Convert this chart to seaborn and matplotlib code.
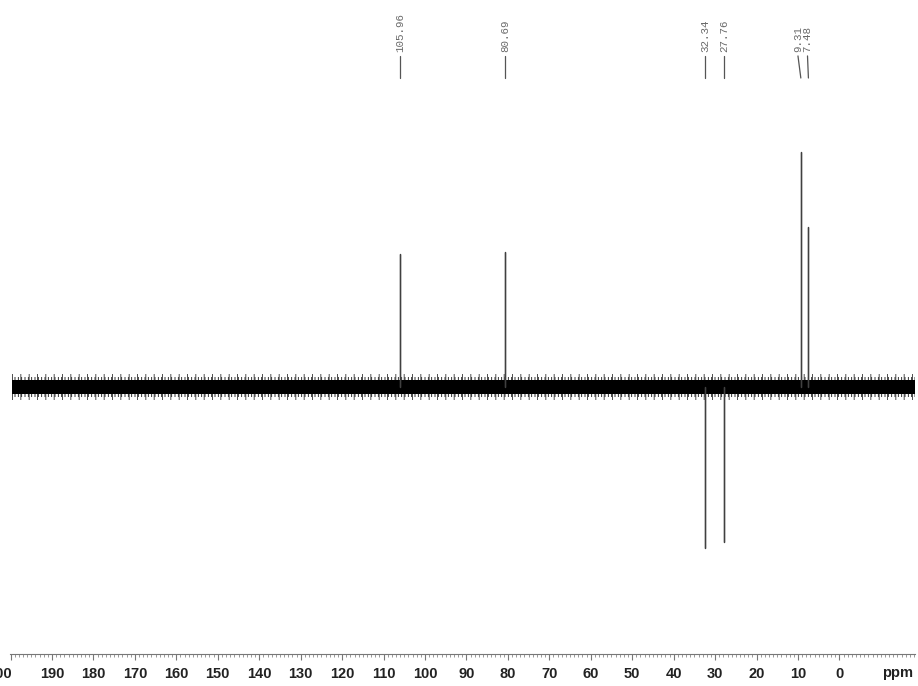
import matplotlib
matplotlib.use("Agg")
import matplotlib.pyplot as plt
import matplotlib.transforms as mtransforms
import numpy as np
import pandas as pd
import seaborn as sns

# DEPT-135 carbon spectrum: peak positions (ppm) and signed relative intensities
peak_ppm = [105.96, 80.69, 32.34, 27.76, 9.31, 7.48]
peak_height = [56.6, 57.4, -68.5, -66.0, 100.0, 68.0]
peak_labels = ["105.96", "80.69", "32.34", "27.76", "9.31", "7.48"]
# where each printed shift label sits (crowded labels are spread apart)
label_ppm = [105.96, 80.69, 32.34, 27.76, 10.0, 7.7]

tick_values = list(range(200, -1, -10))
tick_labels = [str(v) for v in tick_values]

# baseline noise envelope (relative intensity units)
noise_core = 2.9
noise_mid = 4.2
noise_peak = 5.6
baseline_start, baseline_end = 199.7, -18.2

sns.set_theme(style="white")
plt.rcParams["hatch.linewidth"] = 0.6

W, H = 918, 686
fig = plt.figure(figsize=(W / 100, H / 100), dpi=100)
ax = fig.add_axes([10 / W, 32 / H, 905 / W, 654 / H])
ax.set_xlim(200.14, -18.24)
ax.set_ylim(-113.6, 164.7)

# stick spectrum: one vertical trace per resonance
rows = []
for i, (p, h) in enumerate(zip(peak_ppm, peak_height)):
    for y in (0.0, h, 0.0):
        rows.append({"peak": i, "ppm": p, "intensity": y})
df = pd.DataFrame(rows)

# baseline noise band
bx = [baseline_start, baseline_end]
ax.fill_between(bx, -noise_peak, noise_peak, facecolor="none",
                edgecolor="#333333", hatch="||", linewidth=0, zorder=1)
ax.fill_between(bx, -noise_mid, noise_mid, facecolor="none",
                edgecolor="#111111", hatch="|||||", linewidth=0, zorder=1)
ax.fill_between(bx, -noise_core, noise_core, color="#000000",
                linewidth=0, zorder=2)

sns.lineplot(data=df, x="ppm", y="intensity", units="peak", estimator=None,
             sort=False, color="#404040", linewidth=0.95, ax=ax, zorder=3,
             legend=False)

# shift labels with leader lines at the top
for p, lp, lab in zip(peak_ppm, label_ppm, peak_labels):
    ax.plot([lp, p], [140.9, 131.5], color="#555555",
            linewidth=0.9, zorder=3)
    ax.text(lp, 142.6, lab, rotation=90, ha="center", va="bottom",
            family="Liberation Mono", fontsize=7.8, color="#6a6a6a")

# ppm ruler
for s in ("left", "right", "top"):
    ax.spines[s].set_visible(False)
ax.spines["bottom"].set_color("#777777")
ax.spines["bottom"].set_linewidth(0.8)
ax.set_yticks([])
ax.set_xticks(tick_values)
ax.set_xticklabels(tick_labels, family="Liberation Sans", fontweight="bold",
                   fontsize=10.5, color="#222222")
ax.set_xticks(np.arange(200, -19, -1), minor=True)
ax.tick_params(axis="x", which="major", direction="out", length=4,
               width=0.8, color="#777777", pad=5, bottom=True)
ax.tick_params(axis="x", which="minor", direction="out", length=2,
               width=0.6, color="#888888", bottom=True)
ax.set_xlabel("")
ax.set_ylabel("")

# the leftmost label runs off the edge of the ruler
first = ax.get_xticklabels()[0]
first.set_transform(first.get_transform() +
                    mtransforms.ScaledTranslation(-0.11, 0, fig.dpi_scale_trans))

ppm_offset = mtransforms.ScaledTranslation(0, -0.125, fig.dpi_scale_trans)
ax.text(-14.1, 0.0, "ppm", transform=ax.get_xaxis_transform() + ppm_offset,
        ha="center", va="top", family="Liberation Sans", fontweight="bold",
        fontsize=10.5, color="#222222")

fig.savefig("out.png", dpi=100)
